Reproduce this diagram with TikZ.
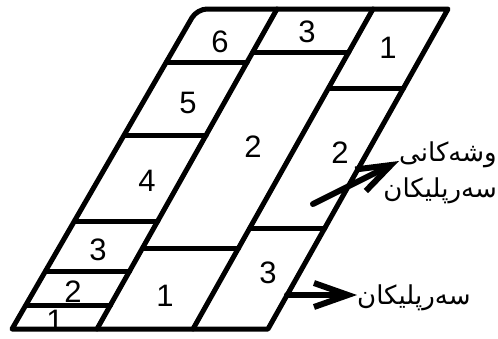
\documentclass[tikz,border=0pt]{standalone}
\usepackage{fontspec}
\usepackage{tikz}
\usetikzlibrary{arrows.meta, calc}
\TeXXeTstate=1
\newfontfamily\numfont{Liberation Sans}
\newfontfamily\kurdfont[Script=Arabic]{DejaVu Sans}

\begin{document}
\begin{tikzpicture}[
        x=1pt, y=-1pt,
        frame/.style={line width=5pt, line join=round, line cap=round},
        digit/.style={font=\numfont\fontsize{31}{35}\selectfont, inner sep=0pt},
        kurd/.style={font=\kurdfont\fontsize{26}{30}\selectfont, inner sep=0pt},
        arrow/.style={-{Straight Barb[length=34pt, width=24pt]}, line width=6pt, line cap=round, line join=round}
    ]
        \path[fill=white] (0, 0) rectangle (498, 338);
        \useasboundingbox (0, 0) rectangle (498, 338);

        % column lines, top and bottom ends
        \coordinate (lt) at (197, 9);  \coordinate (lb) at (12, 329);
        \coordinate (bt) at (277, 9);  \coordinate (bb) at (97, 329);
        \coordinate (ct) at (373, 9);  \coordinate (cb) at (193, 329);
        \coordinate (rt) at (448, 9);  \coordinate (rb) at (268, 329);

        % left column
        \node[digit] (left6) at (220, 42) {6};
        \node[digit] (left5) at (188, 103) {5};
        \node[digit] (left4) at (147, 181) {4};
        \node[digit] (left3) at (98, 250) {3};
        \node[digit] (left2) at (73, 292) {2};
        \node[digit] (left1) at (55, 321) {1};

        % middle column
        \node[digit] (mid3) at (307, 32) {3};
        \node[digit] (mid2) at (253, 147) {2};
        \node[digit] (mid1) at (165, 296) {1};

        % right column
        \node[digit] (right1) at (388, 48) {1};
        \node[digit] (right2) at (340, 153) {2};
        \node[digit] (right3) at (268, 273) {3};

        \draw[frame] (lb) [rounded corners=10pt] -- (lt) [sharp corners] -- (rt) -- (rb) -- cycle;
        \draw[frame] (bt) -- (bb);
        \draw[frame] (ct) -- (cb);

        \foreach \y in {62, 135, 221, 271, 305}
            \draw[frame] ($(lt)!{(\y-9)/320}!(lb)$) -- ($(bt)!{(\y-9)/320}!(bb)$);
        \foreach \y in {52, 248}
            \draw[frame] ($(bt)!{(\y-9)/320}!(bb)$) -- ($(ct)!{(\y-9)/320}!(cb)$);
        \foreach \y in {88, 228}
            \draw[frame] ($(ct)!{(\y-9)/320}!(cb)$) -- ($(rt)!{(\y-9)/320}!(rb)$);

        \node[kurd, anchor=base west] (words) at (399, 161) {\beginR وشەکانی\endR};
        \node[kurd, anchor=base east] (heads) at (497, 197) {\beginR سەرپلیکان\endR};
        \node[kurd, anchor=base west] (heads2) at (357, 304) {\beginR سەرپلیکان\endR};

        \coordinate (from1) at (313, 204);
        \coordinate (from2) at (287, 295);
        \draw[arrow] (from1) -- (words.base west);
        \draw[arrow] (from2) -- (from2 -| heads2.west);

    \end{tikzpicture}
\end{document}
